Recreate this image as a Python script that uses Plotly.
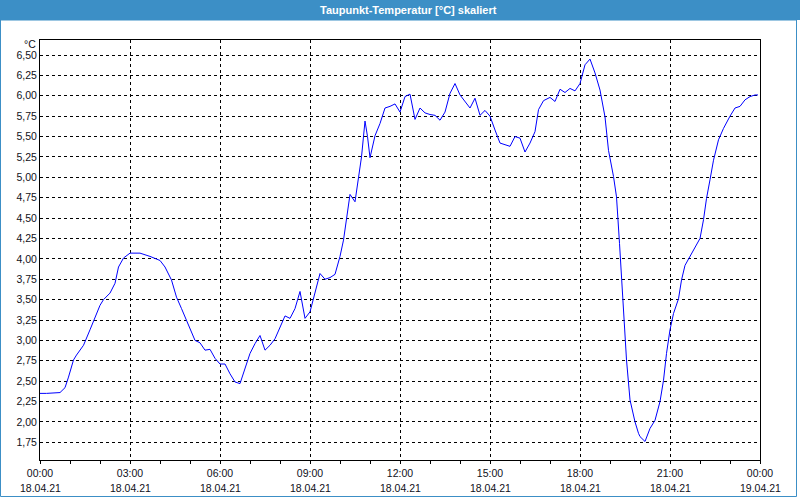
import pandas as pd
import plotly.graph_objects as go

# minutes since 18.04.21 00:00
minutes = [0, 13, 40, 50, 57, 67, 73, 87, 100, 110, 120, 127, 140, 150, 157, 167, 180, 200, 220,
           240, 250, 263, 273, 283, 293, 303, 310, 320, 330, 340, 350, 360, 370, 380, 390, 400,
           410, 420, 430, 440, 450, 460, 470, 480,
           490, 500, 510, 520, 530, 540, 550, 560, 570, 580, 590, 600, 607, 613, 620, 630, 637,
           643, 650, 655, 660, 670, 680, 690, 700, 710, 720,
           730, 740, 750, 760, 770, 780, 790, 800, 810, 820, 830, 840, 850, 860, 870, 880, 890,
           900, 910, 920, 930, 940, 950, 960,
           970, 980, 990, 997, 1007, 1020, 1030, 1040, 1050, 1060, 1070, 1080, 1090, 1100, 1110,
           1120, 1130, 1137, 1147, 1153, 1159, 1163, 1168, 1173, 1180, 1190, 1197,
           1200, 1210, 1220, 1230, 1240, 1247, 1253, 1260, 1267, 1277, 1283, 1290, 1300, 1310,
           1320, 1327, 1333, 1340, 1347, 1357, 1367, 1380, 1390, 1400, 1410, 1420, 1430, 1436]
values = [2.35, 2.35, 2.36, 2.42, 2.55, 2.76, 2.82, 2.94, 3.13, 3.27, 3.43, 3.50, 3.58, 3.70, 3.90,
          4.01, 4.07, 4.07, 4.03,
          3.98, 3.90, 3.74, 3.53, 3.39, 3.25, 3.10, 3.00, 2.97, 2.88, 2.89, 2.78, 2.71, 2.71, 2.59,
          2.49, 2.47, 2.66, 2.84, 2.96, 3.06, 2.88, 2.94, 3.02, 3.17,
          3.30, 3.27, 3.39, 3.60, 3.27, 3.35, 3.58, 3.82, 3.75, 3.77, 3.81, 4.03, 4.23, 4.52, 4.79,
          4.70, 5.01, 5.25, 5.69, 5.50, 5.24, 5.51, 5.66, 5.85, 5.87, 5.90, 5.80,
          5.99, 6.02, 5.71, 5.85, 5.79, 5.77, 5.76, 5.70, 5.80, 6.03, 6.15, 6.01, 5.93, 5.85, 5.97,
          5.76, 5.82, 5.75, 5.58, 5.42, 5.40, 5.38, 5.50, 5.48,
          5.31, 5.42, 5.56, 5.83, 5.94, 5.98, 5.93, 6.08, 6.04, 6.09, 6.06, 6.15, 6.38, 6.45, 6.28,
          6.07, 5.74, 5.33, 5.01, 4.76, 4.19, 3.74, 3.25, 2.76, 2.27, 2.00, 1.86,
          1.82, 1.76, 1.92, 2.02, 2.25, 2.51, 2.84, 3.13, 3.33, 3.51, 3.74, 3.92, 4.03, 4.13, 4.25,
          4.48, 4.74, 4.97, 5.21, 5.46, 5.60, 5.75, 5.85, 5.87, 5.95, 5.99, 6.01, 6.01]

tick_hours = [0, 3, 6, 9, 12, 15, 18, 21, 24]
tick_times = ["00:00", "03:00", "06:00", "09:00", "12:00", "15:00", "18:00", "21:00", "00:00"]
tick_dates = ["18.04.21"] * 8 + ["19.04.21"]
y_ticks = [1.75 + 0.25 * i for i in range(20)]

start = pd.Timestamp("2021-04-18 00:00")
times = [start + pd.Timedelta(minutes=m) for m in minutes]
tick_ts = [start + pd.Timedelta(hours=h) for h in tick_hours]

L, R, T, B = 40, 40, 40, 40
W, H = 800, 500
pw, ph = W - L - R, H - T - B


def px(xp):
    return (xp - L) / pw


def py(yp):
    return (H - B - yp) / ph


fig = go.Figure()
fig.add_trace(go.Scatter(x=times, y=values, mode="lines",
                         line=dict(color="#0000ff", width=1), hoverinfo="skip"))

font = "Liberation Sans"
txt = "#101020"
fs = 10.5
fig.update_layout(
    width=W, height=H, margin=dict(l=L, r=R, t=T, b=B),
    paper_bgcolor="white", plot_bgcolor="white", showlegend=False,
    separators=",.",
    font=dict(family=font, size=fs, color=txt),
    xaxis=dict(range=[start, start + pd.Timedelta(hours=24)], tickvals=tick_ts, ticktext=tick_times,
               showgrid=True, gridcolor="black", griddash="3px,3px", gridwidth=1,
               showline=True, mirror=True, linecolor="black", linewidth=1,
               ticks="outside", ticklen=3, tickcolor="black", zeroline=False,
               minor=dict(dtick=3600000, ticks="outside", ticklen=3, tickcolor="black", showgrid=False),
               tickfont=dict(family=font, size=fs, color=txt)),
    yaxis=dict(range=[1.533, 6.684], tickvals=y_ticks, tickformat=".2f",
               showgrid=True, gridcolor="black", griddash="3px,3px", gridwidth=1,
               showline=True, mirror=True, linecolor="black", linewidth=1,
               ticks="", zeroline=False,
               tickfont=dict(family=font, size=fs, color=txt)),
)

shapes = [
    dict(type="rect", xref="paper", yref="paper", x0=px(0), x1=px(800), y0=py(0), y1=py(20),
         fillcolor="#3c8fc6", line=dict(width=0), layer="below"),
    dict(type="rect", xref="paper", yref="paper", x0=px(0.5), x1=px(796.5), y0=py(20), y1=py(496.5),
         fillcolor="rgba(0,0,0,0)", line=dict(color="#3c8fc6", width=1)),
]
fig.update_layout(shapes=shapes)

ann = [
    dict(text="<b>Taupunkt-Temperatur [°C] skaliert</b>", xref="paper", yref="paper",
         x=px(408), y=py(10), xanchor="center", yanchor="middle", showarrow=False,
         font=dict(family=font, size=11, color="white")),
    dict(text="°C", xref="paper", yref="paper", x=px(38), y=py(44.5), xanchor="right",
         yanchor="middle", showarrow=False, font=dict(family=font, size=fs, color=txt)),
]
for t, d in zip(tick_ts, tick_dates):
    ann.append(dict(text=d, x=t, xref="x", yref="paper", y=py(488), xanchor="center",
                    yanchor="middle", showarrow=False, font=dict(family=font, size=fs, color=txt)))
fig.update_layout(annotations=ann)

fig.write_html("out.html")
